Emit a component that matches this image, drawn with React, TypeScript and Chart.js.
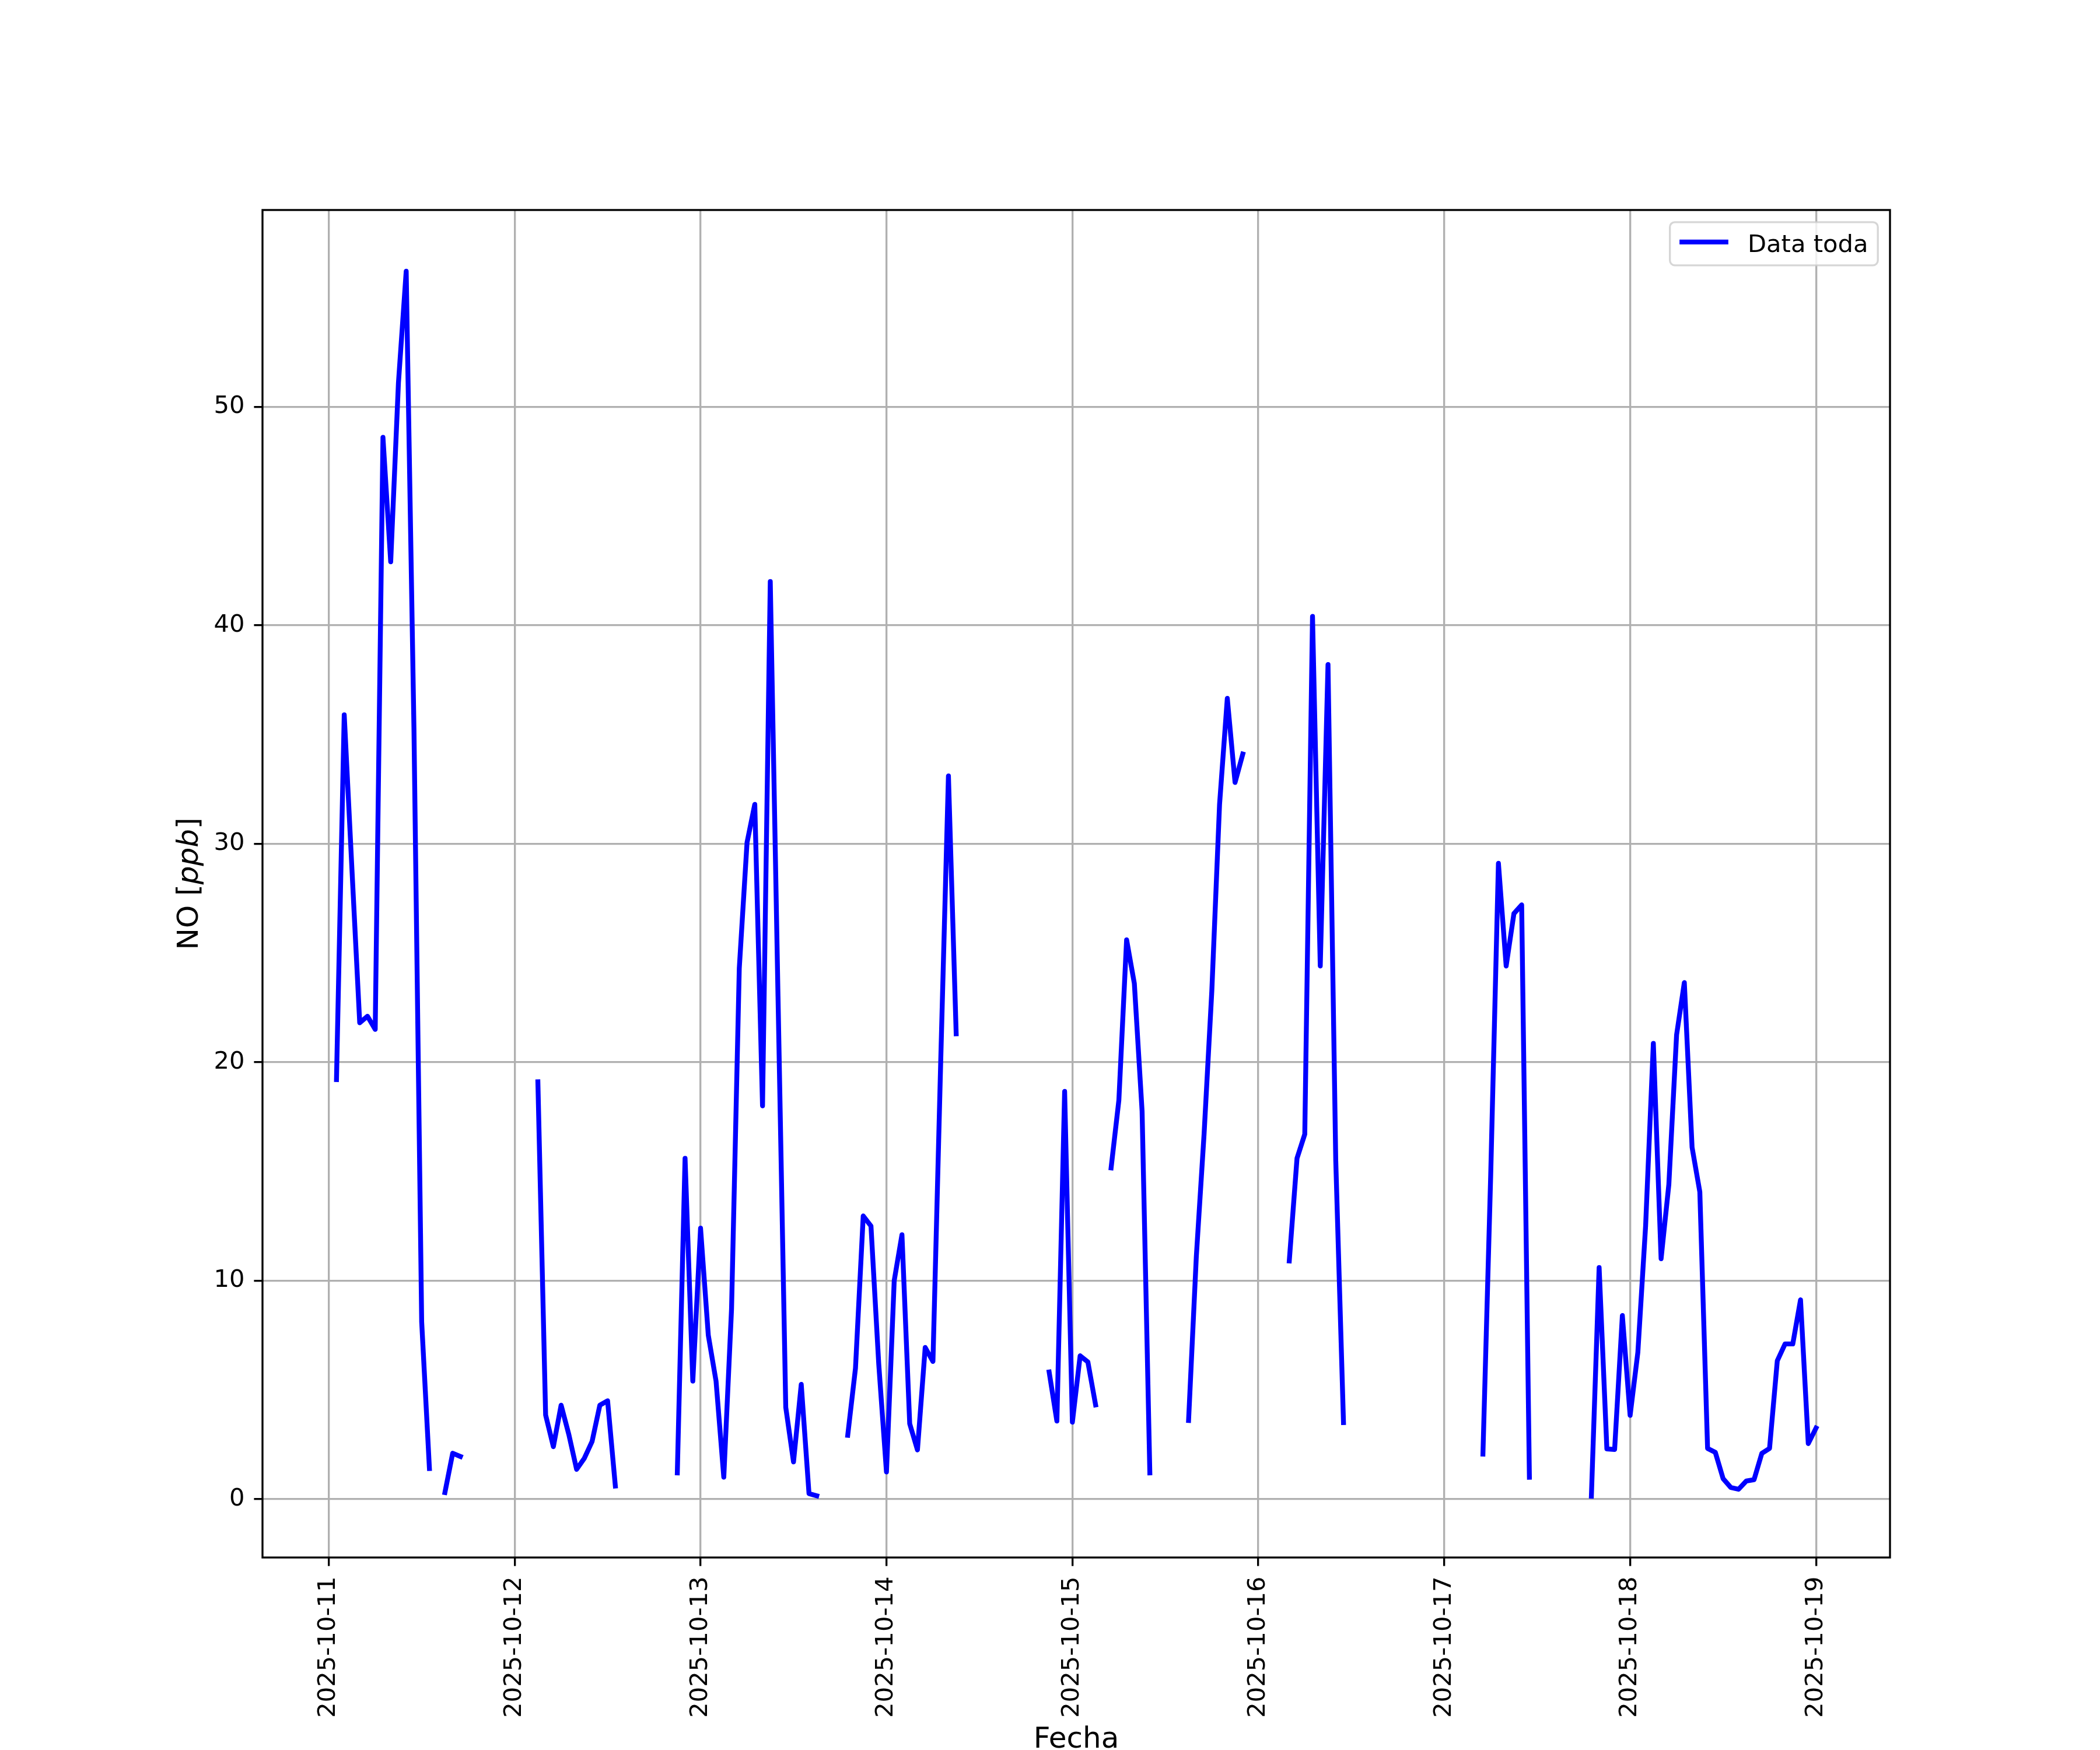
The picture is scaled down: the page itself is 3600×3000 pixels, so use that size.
import React, { useEffect, useRef } from "react";
import { Chart, registerables } from "chart.js";

Chart.register(...registerables);

// ---- Data (hourly NO values, null = missing) ----
const dayLabels = [
  "2025-10-11",
  "2025-10-12",
  "2025-10-13",
  "2025-10-14",
  "2025-10-15",
  "2025-10-16",
  "2025-10-17",
  "2025-10-18",
  "2025-10-19",
];
const yTickValues = [0, 10, 20, 30, 40, 50];
const seriesLabel = "Data toda";
const xTitle = "Fecha";

const oct11 = [
  null, 19.2, 35.9, 28.8, 21.8, 22.1, 21.5, 48.6, 42.9, 51.1, 56.2, 35.3,
  8.1, 1.4, null, 0.3, 2.1, 1.95, null, null, null, null, null, null,
];
const oct12 = [
  null, null, null, 19.1, 3.85, 2.4, 4.3, 2.95, 1.36, 1.87, 2.64, 4.3,
  4.5, 0.6, null, null, null, null, null, null, null, 1.2, 15.6, 5.4,
];
const oct13 = [
  12.4, 7.5, 5.4, 1.0, 8.7, 24.3, 30.05, 31.8, 18.0, 42.0, 23.0, 4.2,
  1.7, 5.25, 0.25, 0.15, null, null, null, 2.92, 5.99, 12.96, 12.5, 6.2,
];
const oct14 = [
  1.24, 10.0, 12.1, 3.45, 2.25, 6.94, 6.3, 20.0, 33.1, 21.3, null, null,
  null, null, null, null, null, null, null, null, null, 5.82, 3.57, 18.66,
];
const oct15 = [
  3.52, 6.56, 6.28, 4.31, null, 15.16, 18.25, 25.6, 23.6, 17.75, 1.2, null,
  null, null, null, 3.6, 11.1, 16.7, 23.25, 31.8, 36.65, 32.8, 34.1, null,
];
const oct16 = [
  null, null, null, null, 10.9, 15.6, 16.7, 40.4, 24.4, 38.2, 15.5, 3.5,
  null, null, null, null, null, null, null, null, null, null, null, null,
];
const oct17 = [
  null, null, null, null, null, 2.06, 14.8, 29.1, 24.4, 26.8, 27.2, 1.0,
  null, null, null, null, null, null, null, 0.13, 10.6, 2.3, 2.27, 8.4,
];
const oct18 = [
  3.83, 6.72, 12.5, 20.86, 11.0, 14.4, 21.25, 23.64, 16.1, 14.06, 2.32, 2.14,
  0.94, 0.53, 0.45, 0.83, 0.89, 2.09, 2.32, 6.33, 7.1, 7.1, 9.12, 2.54,
];
const oct19 = [3.25];

const dayValues = [oct11, oct12, oct13, oct14, oct15, oct16, oct17, oct18, oct19];

// ---- Build points (x = days since 2025-10-11 00:00) ----
const points: { x: number; y: number | null }[] = [];
dayValues.forEach((arr, d) => {
  arr.forEach((v, h) => {
    points.push({ x: d + h / 24, y: v as number | null });
  });
});
const valid = points.filter((p) => p.y !== null) as { x: number; y: number }[];
const xFirst = valid[0].x;
const xLast = valid[valid.length - 1].x;
const xSpan = xLast - xFirst;
const xMin = xFirst - 0.05 * xSpan;
const xMax = xLast + 0.05 * xSpan;
const yVals = valid.map((p) => p.y);
const yLo = Math.min(...yVals);
const yHi = Math.max(...yVals);
const yMin = yLo - 0.05 * (yHi - yLo);
const yMax = yHi + 0.05 * (yHi - yLo);

const FONT = "DejaVu Sans";
const PT = 300 / 72; // px per point

const framePlugin = {
  id: "mplFrame",
  afterDraw(chart: any) {
    const { ctx, chartArea: a } = chart;
    ctx.save();
    // axes box
    ctx.strokeStyle = "#000000";
    ctx.lineWidth = 0.8 * PT;
    ctx.lineJoin = "miter";
    ctx.strokeRect(a.left, a.top, a.right - a.left, a.bottom - a.top);

    // y title: NO [ppb] with italic ppb
    const segs = [
      { t: "NO [", f: `50px "${FONT}"` },
      { t: "ppb", f: `italic 50px "${FONT}"` },
      { t: "]", f: `50px "${FONT}"` },
    ];
    let total = 0;
    const widths = segs.map((s) => {
      ctx.font = s.f;
      const w = ctx.measureText(s.t).width;
      total += w;
      return w;
    });
    ctx.save();
    ctx.translate(338.5, (a.top + a.bottom) / 2);
    ctx.rotate(-Math.PI / 2);
    ctx.fillStyle = "#000000";
    ctx.textBaseline = "alphabetic";
    ctx.textAlign = "left";
    let u = -total / 2;
    segs.forEach((s, i) => {
      ctx.font = s.f;
      ctx.fillText(s.t, u, 0);
      u += widths[i];
    });
    ctx.restore();

    // x title
    ctx.font = `50px "${FONT}"`;
    ctx.fillStyle = "#000000";
    ctx.textAlign = "center";
    ctx.textBaseline = "alphabetic";
    ctx.fillText(xTitle, (a.left + a.right) / 2, 2996);

    // legend
    const fs = 10 * PT;
    ctx.font = `${fs}px "${FONT}"`;
    const textW = ctx.measureText(seriesLabel).width;
    const pad = 0.4 * fs;
    const handleLen = 2 * fs;
    const handlePad = 0.8 * fs;
    const boxW = pad * 2 + handleLen + handlePad + textW;
    const boxH = 74;
    const bx = a.right - 0.5 * fs - boxW;
    const by = a.top + 0.5 * fs;
    const r = 0.2 * fs;
    ctx.beginPath();
    ctx.moveTo(bx + r, by);
    ctx.lineTo(bx + boxW - r, by);
    ctx.arcTo(bx + boxW, by, bx + boxW, by + r, r);
    ctx.lineTo(bx + boxW, by + boxH - r);
    ctx.arcTo(bx + boxW, by + boxH, bx + boxW - r, by + boxH, r);
    ctx.lineTo(bx + r, by + boxH);
    ctx.arcTo(bx, by + boxH, bx, by + boxH - r, r);
    ctx.lineTo(bx, by + r);
    ctx.arcTo(bx, by, bx + r, by, r);
    ctx.closePath();
    ctx.fillStyle = "rgba(255,255,255,0.8)";
    ctx.fill();
    ctx.strokeStyle = "rgba(204,204,204,0.8)";
    ctx.lineWidth = 0.8 * PT;
    ctx.stroke();
    const ly = by + 34;
    ctx.beginPath();
    ctx.moveTo(bx + pad + 4, ly);
    ctx.lineTo(bx + pad + handleLen - 4, ly);
    ctx.strokeStyle = "#0000ff";
    ctx.lineWidth = 2 * PT;
    ctx.lineCap = "square";
    ctx.stroke();
    ctx.fillStyle = "#000000";
    ctx.textAlign = "left";
    ctx.textBaseline = "alphabetic";
    ctx.fillText(seriesLabel, bx + pad + handleLen + handlePad, 432);
    ctx.restore();
  },
};

export default function App() {
  const ref = useRef<HTMLCanvasElement>(null);
  useEffect(() => {
    if (!ref.current) return;
    Chart.defaults.font.family = FONT;
    const tickFont = { family: FONT, size: 10 * PT };
    const chart = new Chart(ref.current, {
      type: "line",
      data: {
        datasets: [
          {
            label: seriesLabel,
            data: points as any,
            borderColor: "#0000ff",
            backgroundColor: "#0000ff",
            borderWidth: 2 * PT,
            pointRadius: 0,
            pointHoverRadius: 0,
            tension: 0,
            spanGaps: false,
            fill: false,
            borderJoinStyle: "round",
            borderCapStyle: "square",
          },
        ],
      },
      options: {
        animation: false,
        responsive: false,
        maintainAspectRatio: false,
        devicePixelRatio: 1,
        events: [],
        layout: { padding: { left: 0, top: 360, right: 360, bottom: 0 } },
        plugins: {
          legend: { display: false },
          tooltip: { enabled: false },
          title: { display: false },
        },
        scales: {
          x: {
            type: "linear",
            position: "bottom",
            min: xMin,
            max: xMax,
            afterBuildTicks: (s: any) => {
              s.ticks = dayLabels.map((_, i) => ({ value: i }));
            },
            afterFit: (s: any) => {
              s.height = 330;
            },
            ticks: {
              autoSkip: false,
              minRotation: 90,
              maxRotation: 90,
              padding: 18,
              color: "#000000",
              font: tickFont,
              callback: (v: any) => dayLabels[Math.round(Number(v))] ?? "",
            },
            grid: {
              color: "#b0b0b0",
              lineWidth: 0.8 * PT,
              drawTicks: true,
              tickLength: 3.5 * PT,
              tickColor: "#000000",
              tickWidth: 0.8 * PT,
            },
            border: { display: false },
            title: { display: false },
          },
          y: {
            type: "linear",
            position: "left",
            min: yMin,
            max: yMax,
            afterBuildTicks: (s: any) => {
              s.ticks = yTickValues.map((v) => ({ value: v }));
            },
            afterFit: (s: any) => {
              s.width = 450;
            },
            ticks: {
              autoSkip: false,
              padding: 16,
              color: "#000000",
              font: tickFont,
              callback: (v: any) => String(v),
            },
            grid: {
              color: "#b0b0b0",
              lineWidth: 0.8 * PT,
              drawTicks: true,
              tickLength: 3.5 * PT,
              tickColor: "#000000",
              tickWidth: 0.8 * PT,
            },
            border: { display: false },
            title: { display: false },
          },
        },
      } as any,
      plugins: [framePlugin],
    });
    return () => chart.destroy();
  }, []);

  return (
    <div
      style={{
        position: "absolute",
        left: 0,
        top: 0,
        width: 3600,
        height: 3000,
        background: "#ffffff",
      }}
    >
      <canvas
        ref={ref}
        width={3600}
        height={3000}
        style={{ width: 3600, height: 3000, display: "block" }}
      />
    </div>
  );
}
